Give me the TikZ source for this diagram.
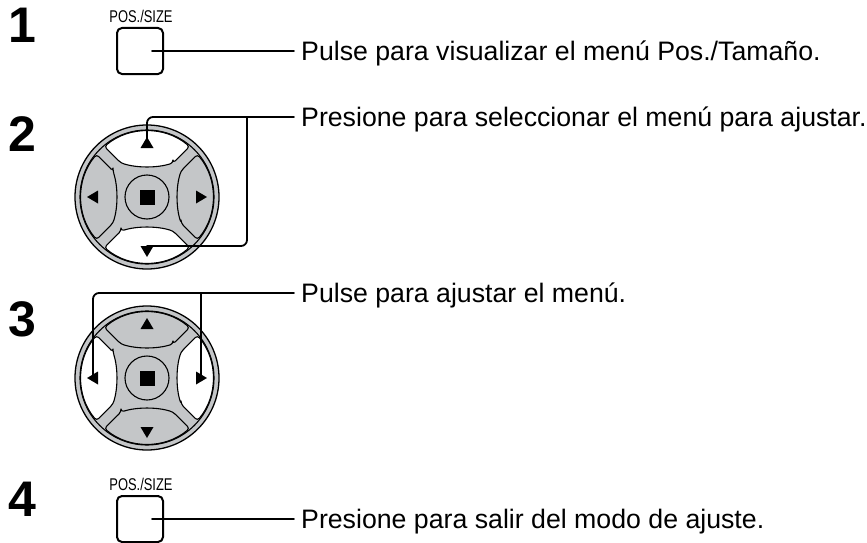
\documentclass[tikz,border=0pt]{standalone}
\usepackage{fontspec}
\setmainfont{Liberation Sans}
\newfontfamily\condfont[FakeStretch=0.76]{Liberation Sans}
\usetikzlibrary{positioning}

\definecolor{padgray}{RGB}{196,198,200}
% one key of the cursor pad, pointing along +x
\newcommand\padbtn{(34,26) -- (40.2:66) arc[start angle=40.2, end angle=-40.2, radius=66] -- (34,-26) .. controls (29,-10) and (29,10) .. cycle}

\tikzset{
  stepnum/.style={anchor=base west, inner sep=0pt, font=\fontsize{50}{50}\selectfont\bfseries},
  steptext/.style={anchor=west, inner xsep=7pt, inner ysep=0pt, text height=19pt, text depth=0pt, font=\fontsize{26.7}{26.7}\selectfont},
  posbox/.style={draw, line width=2pt, rounded corners=5pt, minimum width=46pt, minimum height=46pt, inner sep=0pt},
  poslabel/.style={anchor=south, inner sep=0pt, text depth=0pt, font=\condfont\fontsize{17}{17}\selectfont},
  link/.style={line width=1.8pt}
}

\begin{document}
\begin{tikzpicture}[x=1pt, y=-1pt, line join=round, line cap=round]
	\useasboundingbox (0,0) rectangle (867,543);
	
	\foreach \n/\yb in {1/43, 2/151, 3/336, 4/516}
		\node[stepnum] (num\n) at (8,\yb) {\n};
	
	% POS./SIZE keys
	\node[posbox] (b1) at (140,51) {};
	\node[posbox] (b4) at (140,519) {};
	\node[poslabel] (l1) at ([xshift=1pt, yshift=4pt]b1.north) {POS./SIZE};
	\node[poslabel] (l4) at ([xshift=1pt, yshift=4pt]b4.north) {POS./SIZE};
	
	\node[steptext] (t1) at (294,51) {Pulse para visualizar el menú Pos./Tamaño.};
	\node[steptext] (t2) at (294,117) {Presione para seleccionar el menú para ajustar.};
	\node[steptext] (t3) at (294,293) {Pulse para ajustar el menú.};
	\node[steptext] (t4) at (294,519) {Presione para salir del modo de ajuste.};
	
	% cursor pads
	\foreach \pn/\py/\colA/\colB in {padA/197/padgray/white, padB/378/white/padgray} {
		\path (147,\py) coordinate (\pn);
		\draw[fill=padgray, line width=1.3pt] (\pn) circle (72);
		\draw[line width=1.1pt] (\pn) circle (67);
		\foreach \ang/\col in {0/\colA, 90/\colB, 180/\colA, 270/\colB} {
			\begin{scope}[shift={(\pn)}, rotate=\ang]
				\draw[fill=\col, line width=1.1pt, rounded corners=3pt] \padbtn;
				\fill (60,0) -- (49,6.5) -- (49,-6.5) -- cycle;
				\path (54,0) coordinate (\pn\ang) (49,0) coordinate (\pn\ang base);
			\end{scope}
		}
		\draw[line width=1.1pt] (\pn) circle (22);
		\fill ([shift={(-7.5,-7.5)}]\pn) rectangle ++(15,15);
	}
	
	% connectors
	\draw[link] ([xshift=12pt]b1.center) -- (t1.west);
	\draw[link] ([xshift=12pt]b4.center) -- (t4.west);
	\path (t2.west) ++(-47,0) coordinate (j2);
	\draw[link, rounded corners=6pt] (padA90) |- (t2.west);
	\draw[link, rounded corners=6pt] (j2) |- (padA270base);
	\draw[link, rounded corners=6pt] (padB180) |- (t3.west);
	\draw[link] (padB0 |- t3.west) -- (padB0);
\end{tikzpicture}
\end{document}
